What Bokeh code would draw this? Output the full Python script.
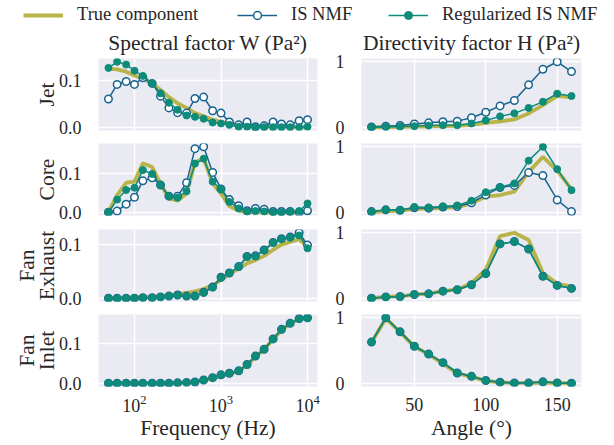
from bokeh.plotting import figure
from bokeh.layouts import column, row
from bokeh.models import Range1d, FixedTicker, PrintfTickFormatter, LogTickFormatter, Legend, LegendItem
from bokeh.embed import file_html
from bokeh.resources import INLINE
import numpy as np

# ---------------- data ----------------
freq = [50, 63, 80, 100, 125, 160, 200, 250, 315, 400, 500, 630, 800, 1000,
        1250, 1600, 2000, 2500, 3150, 4000, 5000, 6300, 8000, 10000]
angle = [20, 30, 40, 50, 60, 70, 80, 90, 100, 110, 120, 130, 140, 150, 160]

row_labels = ["Jet", "Core", "Fan\nExhaust", "Fan\nInlet"]
col_titles = ["Spectral factor W (Pa²)", "Directivity factor H (Pa²)"]
series_labels = ["True component", "IS NMF", "Regularized IS NMF"]

# Jet
jet_w_true = [0.125, 0.124, 0.119, 0.111, 0.104, 0.094, 0.080, 0.065, 0.052, 0.042, 0.031, 0.024,
              0.017, 0.012, 0.008, 0.006, 0.004, 0.003, 0.003, 0.002, 0.002, 0.002, 0.001, 0.001]
jet_w_is = [0.061, 0.092, 0.098, 0.092, 0.106, 0.094, 0.067, 0.042, 0.032, 0.031, 0.062, 0.065,
            0.036, 0.031, 0.012, 0.006, 0.012, 0.002, 0.004, 0.012, 0.008, 0.006, 0.015, 0.017]
jet_w_reg = [0.127, 0.140, 0.134, 0.121, 0.110, 0.094, 0.073, 0.053, 0.038, 0.026, 0.023, 0.019,
             0.011, 0.009, 0.006, 0.002, 0.002, 0.001, 0.001, 0.001, 0.001, 0.001, 0.001, 0.002]
jet_h_true = [0.0, 0.003, 0.006, 0.009, 0.013, 0.017, 0.022, 0.036, 0.067, 0.088, 0.12, 0.21, 0.337, 0.48, 0.456]
jet_h_is = [0.005, 0.016, 0.026, 0.05, 0.067, 0.083, 0.093, 0.145, 0.228, 0.326, 0.409, 0.648, 0.886, 1.0, 0.85]
jet_h_reg = [0.0, 0.005, 0.01, 0.016, 0.026, 0.031, 0.031, 0.057, 0.104, 0.166, 0.212, 0.295, 0.389, 0.513, 0.477]

# Core
core_w_true = [0.0, 0.045, 0.077, 0.08, 0.128, 0.118, 0.075, 0.036, 0.03, 0.049, 0.13, 0.141,
               0.075, 0.049, 0.016, 0.004, 0.0, 0.0, 0.0, 0.0, 0.0, 0.0, 0.0, 0.0]
core_w_is = [0.0, 0.003, 0.021, 0.039, 0.082, 0.09, 0.071, 0.042, 0.042, 0.077, 0.166, 0.171,
             0.104, 0.061, 0.033, 0.017, 0.004, 0.010, 0.008, 0.002, 0.002, 0.002, 0.0, 0.004]
core_w_reg = [0.0, 0.033, 0.058, 0.064, 0.110, 0.10, 0.071, 0.042, 0.038, 0.055, 0.127, 0.14,
              0.08, 0.06, 0.027, 0.01, 0.002, 0.003, 0.002, 0.0, 0.0, 0.001, 0.003, 0.023]
core_h_true = [0.0, 0.016, 0.02, 0.05, 0.057, 0.067, 0.078, 0.135, 0.238, 0.26, 0.316, 0.617, 0.845, 0.637, 0.352]
core_h_is = [0.01, 0.036, 0.031, 0.067, 0.062, 0.078, 0.088, 0.145, 0.264, 0.378, 0.41, 0.606, 0.56, 0.187, 0.01]
core_h_reg = [0.01, 0.036, 0.031, 0.078, 0.073, 0.088, 0.104, 0.176, 0.306, 0.383, 0.44, 0.788, 1.0, 0.658, 0.337]

# Fan exhaust
fe_w_true = [0.0005, 0.0007, 0.001, 0.0015, 0.002, 0.003, 0.004, 0.0055, 0.0075, 0.010, 0.013, 0.017,
             0.024, 0.034, 0.045, 0.055, 0.065, 0.071, 0.079, 0.09, 0.1, 0.105, 0.11, 0.096]
fe_w_is = [0.0, 0.0, 0.0, 0.0, 0.001, 0.001, 0.0025, 0.004, 0.006, 0.004, 0.004, 0.011,
           0.021, 0.039, 0.047, 0.059, 0.078, 0.079, 0.09, 0.104, 0.111, 0.114, 0.122, 0.099]
fe_w_reg = [0.0, 0.0, 0.0, 0.0, 0.001, 0.001, 0.0025, 0.004, 0.0055, 0.004, 0.004, 0.010,
            0.020, 0.038, 0.047, 0.058, 0.077, 0.078, 0.089, 0.103, 0.110, 0.113, 0.117, 0.093]
fe_h_true = [0.005, 0.02, 0.03, 0.055, 0.07, 0.11, 0.135, 0.23, 0.437, 0.95, 1.0, 0.89, 0.386, 0.22, 0.18]
fe_h_is = [0.0, 0.02, 0.026, 0.057, 0.067, 0.108, 0.129, 0.206, 0.375, 0.83, 0.866, 0.752, 0.336, 0.196, 0.15]
fe_h_reg = [0.0, 0.02, 0.026, 0.057, 0.067, 0.108, 0.129, 0.206, 0.375, 0.828, 0.864, 0.75, 0.334, 0.195, 0.149]

# Fan inlet
fi_w_true = [0.0, 0.0, 0.0, 0.0, 0.0, 0.0, 0.0003, 0.0006, 0.001, 0.002, 0.004, 0.007,
             0.012, 0.018, 0.023, 0.03, 0.045, 0.066, 0.085, 0.11, 0.133, 0.15, 0.16, 0.163]
fi_w_is = [0.0, 0.0, 0.0, 0.0, 0.0, 0.0, 0.0, 0.0, 0.001, 0.002, 0.003, 0.008,
           0.014, 0.021, 0.025, 0.031, 0.047, 0.068, 0.085, 0.111, 0.135, 0.15, 0.162, 0.164]
fi_w_reg = [0.0, 0.0, 0.0, 0.0, 0.0, 0.0, 0.0, 0.0, 0.001, 0.002, 0.003, 0.008,
            0.014, 0.021, 0.025, 0.031, 0.046, 0.068, 0.085, 0.110, 0.134, 0.150, 0.161, 0.163]
fi_h_true = [0.62, 0.99, 0.78, 0.56, 0.44, 0.30, 0.15, 0.10, 0.035, 0.012, 0.005, 0.005, 0.01, 0.005, 0.003]
fi_h_is = [0.628, 1.0, 0.785, 0.565, 0.445, 0.314, 0.157, 0.105, 0.042, 0.016, 0.005, 0.005, 0.021, 0.005, 0.0]
fi_h_reg = [0.628, 1.0, 0.785, 0.565, 0.445, 0.314, 0.157, 0.105, 0.042, 0.016, 0.005, 0.005, 0.021, 0.005, 0.0]

W_rows = [(jet_w_true, jet_w_is, jet_w_reg), (core_w_true, core_w_is, core_w_reg),
          (fe_w_true, fe_w_is, fe_w_reg), (fi_w_true, fi_w_is, fi_w_reg)]
H_rows = [(jet_h_true, jet_h_is, jet_h_reg), (core_h_true, core_h_is, core_h_reg),
          (fe_h_true, fe_h_is, fe_h_reg), (fi_h_true, fi_h_is, fi_h_reg)]

freq_ticks = [100, 1000, 10000]
angle_ticks = [50, 100, 150]
w_ticks = [0.0, 0.1]
h_ticks = [0, 1]

# ---------------- style ----------------
FONT = "Liberation Serif, serif"
TXT = "#262626"
BG = "#EAEAF2"
C_TRUE = "#b9b44a"
C_IS = "#19648f"
C_REG = "#0d8c7a"

TOP = [33, 6, 7, 6]
BOT = [7, 7, 7, 59]


def pad_range(vals, log=False):
    a = np.asarray(vals, dtype=float)
    if log:
        a = np.log10(a)
    lo, hi = a.min(), a.max()
    m = 0.05 * (hi - lo)
    lo, hi = lo - m, hi + m
    if log:
        return Range1d(10 ** lo, 10 ** hi)
    return Range1d(lo, hi)


def style_axis(ax):
    ax.axis_line_color = None
    ax.major_tick_line_color = None
    ax.minor_tick_line_color = None
    ax.major_label_text_font = FONT
    ax.major_label_text_font_size = "18px"
    ax.major_label_text_color = TXT
    ax.axis_label_text_font = FONT
    ax.axis_label_text_font_size = "21.5px"
    ax.axis_label_text_font_style = "normal"
    ax.axis_label_text_color = TXT
    ax.axis_label_text_line_height = 0.85


def panel(r, c):
    left = c == 0
    xs = freq if left else angle
    tr, isn, reg = (W_rows if left else H_rows)[r]
    allv = list(tr) + list(isn) + list(reg)
    p = figure(
        x_axis_type="log" if left else "linear",
        frame_width=219 if left else 220, frame_height=72,
        x_range=pad_range(xs, log=left), y_range=pad_range(allv),
        output_backend="svg", toolbar_location=None,
        min_border_left=98 if left else 30, min_border_right=14 if left else 33,
        min_border_top=TOP[r], min_border_bottom=BOT[r],
        background_fill_color=BG, border_fill_color="white", outline_line_color=None,
    )
    xt = FixedTicker(ticks=freq_ticks if left else angle_ticks)
    yt = FixedTicker(ticks=w_ticks if left else h_ticks)
    p.xaxis.ticker = xt
    p.yaxis.ticker = yt
    p.xgrid.ticker = xt
    p.ygrid.ticker = yt
    p.grid.grid_line_color = "white"
    p.grid.grid_line_width = 1.5
    p.yaxis.formatter = PrintfTickFormatter(format="%.1f" if left else "%.0f")
    if left:
        p.xaxis.formatter = LogTickFormatter()
    for ax in p.xaxis + p.yaxis:
        style_axis(ax)
    p.yaxis.major_label_standoff = 11
    p.xaxis.major_label_standoff = 2 if left else 5
    if left:
        p.yaxis.axis_label = row_labels[r]
        p.yaxis.axis_label_standoff = -3
    if r < 3:
        p.xaxis.visible = False
    else:
        p.xaxis.axis_label = "Frequency (Hz)" if left else "Angle (°)"
        p.xaxis.axis_label_standoff = 1 if left else 2
    if r == 0:
        p.title.text = col_titles[c]
        p.title.align = "center"
        p.title.text_font = FONT
        p.title.text_font_size = "21.5px"
        p.title.text_font_style = "normal"
        p.title.text_color = TXT
        p.title.standoff = 7

    p.line(xs, tr, line_color=C_TRUE, line_width=3.8)
    p.line(xs, isn, line_color=C_IS, line_width=1.5)
    p.scatter(xs, isn, marker="circle", size=7.5, line_color=C_IS, fill_color="white", line_width=1.5)
    p.line(xs, reg, line_color=C_REG, line_width=1.5)
    p.scatter(xs, reg, marker="circle", size=7, line_color=C_REG, fill_color=C_REG, line_width=1)
    return p


# legend strip (its glyph sources hold one point kept outside the visible range)
lg = figure(width=614, height=25, x_range=Range1d(0, 1), y_range=Range1d(0, 1),
            output_backend="svg", toolbar_location=None, min_border=0,
            outline_line_color=None, background_fill_color="white")
lg.axis.visible = False
lg.grid.visible = False
off = dict(x=[-5], y=[-5])
r_true = lg.line(off["x"], off["y"], line_color=C_TRUE, line_width=3.8)
r_isl = lg.line(off["x"], off["y"], line_color=C_IS, line_width=1.5)
r_iss = lg.scatter(off["x"], off["y"], marker="circle", size=10, line_color=C_IS, fill_color="white", line_width=1.5)
r_rgl = lg.line(off["x"], off["y"], line_color=C_REG, line_width=1.5)
r_rgs = lg.scatter(off["x"], off["y"], marker="circle", size=10, line_color=C_REG, fill_color=C_REG, line_width=1)

leg_items = [(series_labels[0], [r_true], 23),
             (series_labels[1], [r_isl, r_iss], 237),
             (series_labels[2], [r_rgl, r_rgs], 388)]
for lab, rends, x0 in leg_items:
    lgd = Legend(items=[LegendItem(label=lab, renderers=rends)],
                 orientation="horizontal", location=(x0, 0), margin=0, padding=0,
                 glyph_width=40, glyph_height=20, label_standoff=14,
                 label_text_font="Liberation Serif", label_text_font_size="18.5px",
                 label_text_color=TXT, border_line_color=None, background_fill_alpha=0)
    lg.add_layout(lgd, "center")

rows = [row(panel(r, 0), panel(r, 1)) for r in range(4)]
layout = column(lg, *rows)

open("out.html", "w").write(file_html(layout, INLINE))
